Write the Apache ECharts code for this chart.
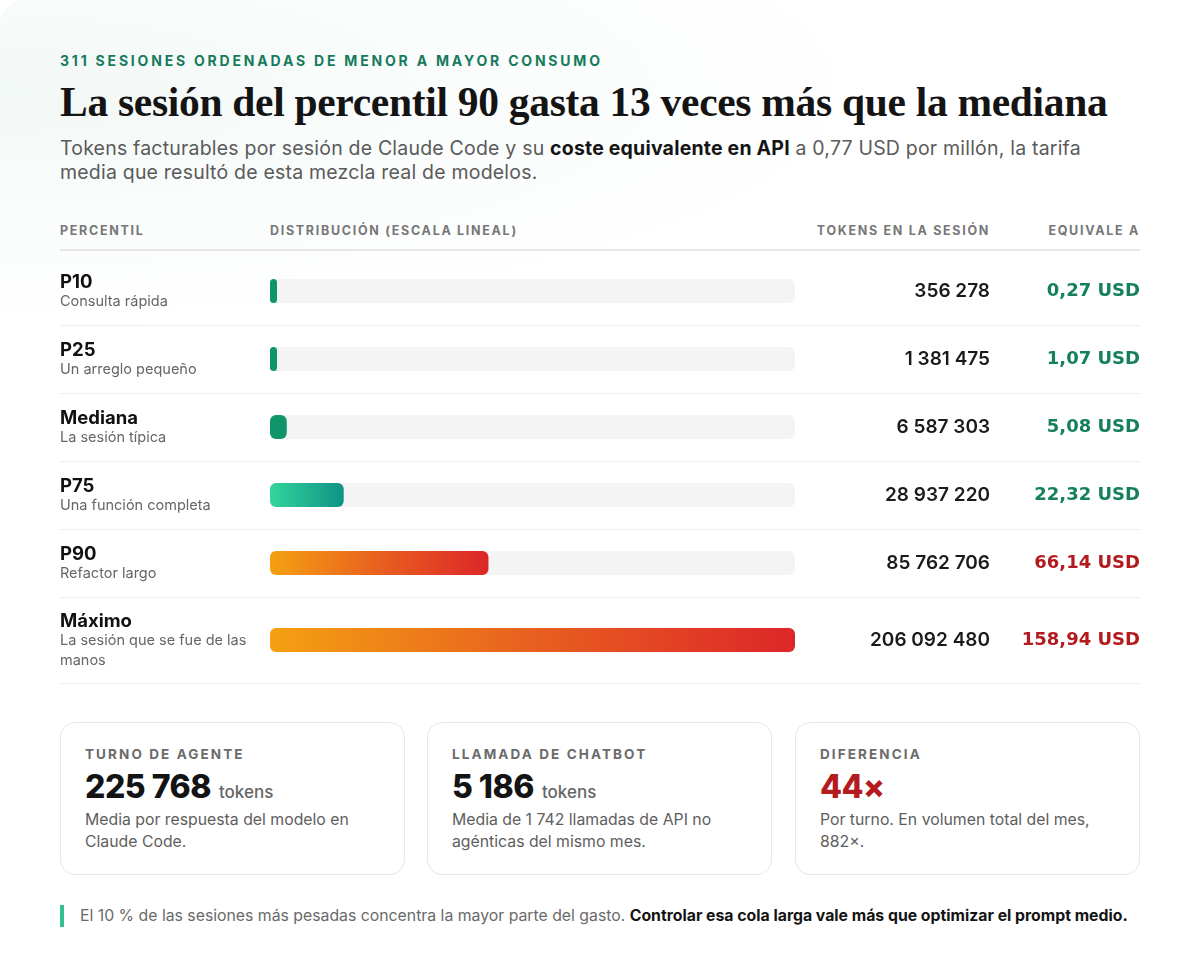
<!DOCTYPE html>
<html lang="es">
<head>
<meta charset="utf-8">
<title>Percentiles de sesión</title>
<script src="https://cdn.jsdelivr.net/npm/echarts@6/dist/echarts.min.js"></script>
<style>
  html, body { margin: 0; padding: 0; }
  body {
    width: 1200px; height: 978px; position: relative; overflow: hidden;
    background: #ffffff;
    font-family: "Inter", "Noto Sans", sans-serif;
  }
  .bg {
    position: absolute; left: 0; top: 0; width: 1200px; height: 978px;
    border-radius: 24px;
    background: radial-gradient(ellipse 900px 240px at 0 90px, #f2f8f6 0%, #fafdfc 55%, #ffffff 100%);
  }
  .abs { position: absolute; white-space: nowrap; }
  .kicker {
    left: 60px; top: 51px; font-size: 14px; line-height: 20px; font-weight: 700;
    letter-spacing: 2.8px; color: #167a5c;
  }
  .title {
    left: 60px; top: 78px; font-family: "Liberation Serif", serif; font-weight: 700;
    font-size: 41.5px; line-height: 48px; color: #141414; letter-spacing: -0.3px;
  }
  .sub {
    left: 60px; top: 136px; font-size: 19.5px; line-height: 24px; color: #5a5a5a;
    white-space: normal; width: 1060px; letter-spacing: 0.2px;
  }
  .sub b { color: #151515; font-weight: 700; }
  .th {
    top: 223px; font-size: 12.5px; line-height: 16px; font-weight: 700;
    letter-spacing: 1.7px; color: #777;
  }
  .rule { position: absolute; left: 60px; width: 1080px; }
  #chart { position: absolute; left: 0; top: 200px; width: 1200px; height: 500px; }
  .card {
    position: absolute; top: 722px; width: 345px; height: 153px;
    border: 1px solid #e7e7e7; border-radius: 15px; background: #fff; box-sizing: border-box;
  }
  .card .lbl {
    position: absolute; left: 24px; top: 23px; font-size: 13.5px; font-weight: 700;
    letter-spacing: 2.1px; color: #6b6b6b; white-space: nowrap;
  }
  .card .big {
    position: absolute; left: 24px; top: 44px; font-size: 32px; line-height: 40px;
    font-weight: 800; color: #141414; white-space: nowrap; letter-spacing: -0.5px;
  }
  .card .big small { font-size: 17px; font-weight: 500; color: #666; letter-spacing: 0; margin-left: 8px; }
  .card .big.red { color: #b31b1f; }
  .card .txt {
    position: absolute; left: 24px; top: 86px; width: 300px; font-size: 15.8px; line-height: 22px;
    color: #5e5e5e;
  }
  .foot-bar { position: absolute; left: 60px; top: 905px; width: 4px; height: 22px; background: #34c08f; }
  .foot {
    left: 80px; top: 906px; font-size: 15.8px; line-height: 20px; color: #6a6a6a;
    letter-spacing: 0;
  }
  .foot b { color: #141414; font-weight: 700; }
</style>
</head>
<body>
<div class="bg"></div>

<div class="abs kicker">311 SESIONES ORDENADAS DE MENOR A MAYOR CONSUMO</div>
<div class="abs title">La sesión del percentil 90 gasta 13 veces más que la mediana</div>
<div class="abs sub">Tokens facturables por sesión de Claude Code y su <b>coste equivalente en API</b> a 0,77 USD por millón, la tarifa media que resultó de esta mezcla real de modelos.</div>

<div class="abs th" style="left:60px">PERCENTIL</div>
<div class="abs th" style="left:270px">DISTRIBUCIÓN (ESCALA LINEAL)</div>
<div class="abs th" style="right:210px">TOKENS EN LA SESIÓN</div>
<div class="abs th" style="right:60px">EQUIVALE A</div>
<div class="rule" style="top:249px;height:2px;background:#e6e6e6"></div>
<div class="rule" style="top:325px;height:1px;background:#efefef"></div>
<div class="rule" style="top:393px;height:1px;background:#efefef"></div>
<div class="rule" style="top:461px;height:1px;background:#efefef"></div>
<div class="rule" style="top:529px;height:1px;background:#efefef"></div>
<div class="rule" style="top:597px;height:1px;background:#efefef"></div>
<div class="rule" style="top:683px;height:1px;background:#efefef"></div>

<div id="chart"></div>

<div class="card" style="left:60px">
  <div class="lbl">TURNO DE AGENTE</div>
  <div class="big">225 768<small>tokens</small></div>
  <div class="txt">Media por respuesta del modelo en Claude Code.</div>
</div>
<div class="card" style="left:427px">
  <div class="lbl">LLAMADA DE CHATBOT</div>
  <div class="big">5 186<small>tokens</small></div>
  <div class="txt">Media de 1 742 llamadas de API no agénticas del mismo mes.</div>
</div>
<div class="card" style="left:795px">
  <div class="lbl">DIFERENCIA</div>
  <div class="big red">44×</div>
  <div class="txt">Por turno. En volumen total del mes, 882×.</div>
</div>

<div class="foot-bar"></div>
<div class="abs foot">El 10 % de las sesiones más pesadas concentra la mayor parte del gasto. <b>Controlar esa cola larga vale más que optimizar el prompt medio.</b></div>

<script>
// percentiles de la distribución de tokens por sesión
const percentiles = ["P10", "P25", "Mediana", "P75", "P90", "Máximo"];
const descripciones = [
  "Consulta rápida",
  "Un arreglo pequeño",
  "La sesión típica",
  "Una función completa",
  "Refactor largo",
  "La sesión que se fue de las\nmanos"
];
const tokens = [356278, 1381475, 6587303, 28937220, 85762706, 206092480];
const costeUsd = [0.27, 1.07, 5.08, 22.32, 66.14, 158.94];

// centro vertical de cada fila dentro del lienzo (px)
const rowCenters = [91, 159, 227, 295, 363, 440];

const FONT = "Inter, 'Noto Sans', sans-serif";
const WIDE = "'DejaVu Sans', sans-serif";
const GREEN = "#14805e";
const RED = "#b31b1f";

function fmtNum(n) {
  return String(n).replace(/\B(?=(\d{3})+(?!\d))/g, " ");
}
function fmtUsd(v) {
  return v.toFixed(2).replace(".", ",") + " USD";
}
function barColor(i) {
  if (i <= 2) return "#0f9569";
  if (i === 3) {
    return new echarts.graphic.LinearGradient(0, 0, 1, 0, [
      { offset: 0, color: "#33d59c" },
      { offset: 1, color: "#0f9386" }
    ]);
  }
  return new echarts.graphic.LinearGradient(0, 0, 1, 0, [
    { offset: 0, color: "#f4a012" },
    { offset: 0.5, color: "#e8601f" },
    { offset: 1, color: "#dd2629" }
  ]);
}

const maxTokens = Math.max(...tokens);
const tail = tokens[4];

const chart = echarts.init(document.getElementById("chart"), null, { renderer: "canvas" });

const grid = [];
const xAxis = [];
const yAxis = [];
const series = [];

percentiles.forEach((name, i) => {
  grid.push({ left: 270, width: 525, top: rowCenters[i] - 12, height: 24 });
  xAxis.push({
    gridIndex: i, type: "value", min: 0, max: maxTokens,
    show: false
  });
  const subLines = descripciones[i].split("\n").map(s => `{s|${s}}`).join("\n");
  yAxis.push({
    gridIndex: i, type: "category", data: [name],
    axisLine: { show: false }, axisTick: { show: false },
    axisLabel: {
      align: "left", margin: 210,
      formatter: () => `{n|${name}}\n${subLines}`,
      rich: {
        n: { fontFamily: FONT, fontSize: 18.5, fontWeight: 700, color: "#111", lineHeight: 22, padding: [3, 0, 0, 0] },
        s: { fontFamily: FONT, fontSize: 14.5, color: "#666", lineHeight: 20 }
      }
    }
  });
  yAxis.push({
    gridIndex: i, type: "category", data: [name], position: "right",
    axisLine: { show: false }, axisTick: { show: false },
    axisLabel: {
      align: "left", margin: 45,
      formatter: () => `{t|${fmtNum(tokens[i])}}{u|${fmtUsd(costeUsd[i])}}`,
      rich: {
        t: { width: 150, align: "right", fontFamily: FONT, fontSize: 19, fontWeight: 600, color: "#1a1a1a" },
        u: {
          width: 150, align: "right", fontFamily: WIDE, fontSize: 18, fontWeight: 700,
          color: tokens[i] >= tail ? RED : GREEN
        }
      }
    }
  });
  series.push({
    type: "bar",
    xAxisIndex: i,
    yAxisIndex: i * 2,
    data: [tokens[i]],
    barWidth: 24,
    barMinHeight: 7,
    showBackground: true,
    backgroundStyle: { color: "#f4f4f4", borderRadius: 6 },
    itemStyle: { color: barColor(i), borderRadius: 6 },
    silent: true,
    animation: false
  });
});

chart.setOption({
  animation: false,
  grid,
  xAxis,
  yAxis,
  series
});
</script>
</body>
</html>
